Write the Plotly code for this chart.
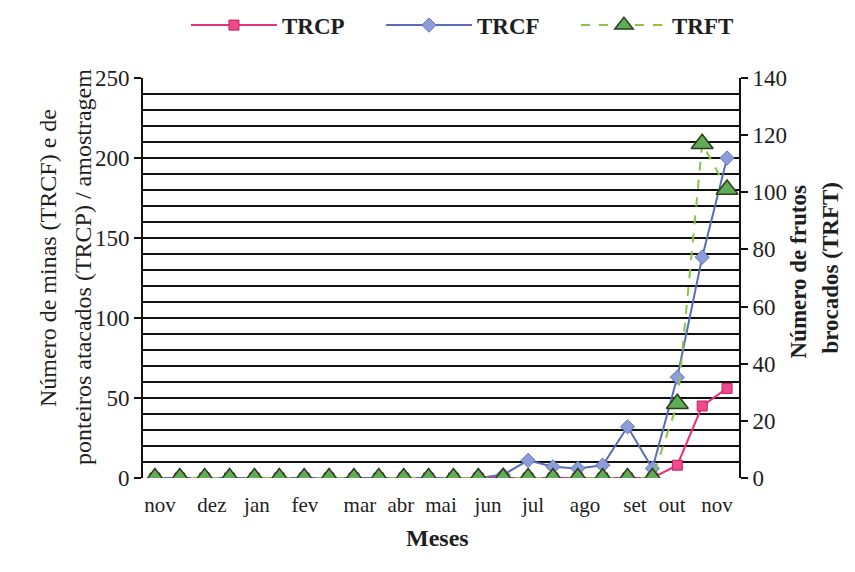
import plotly.graph_objects as go

# ---- data ----
points = list(range(24))  # fortnightly sampling, nov -> nov
TRCP = [0, 0, 0, 0, 0, 0, 0, 0, 0, 0, 0, 0, 0, 0, 0, 0, 0, 0, 0, 0, 0, 8, 45, 56]
TRCF = [0, 0, 0, 0, 0, 0, 0, 0, 0, 0, 0, 0, 0, 0, 2, 11, 7, 6, 8, 32, 6, 63, 138, 200]
TRFT = [0, 0, 0, 0, 0, 0, 0, 0, 0, 0, 0, 0, 0, 0, 0, 0, 0, 0, 0, 0, 0, 26, 117, 101]

month_labels = ["nov", "dez", "jan", "fev", "mar", "abr", "mai", "jun",
                "jul", "ago", "set", "out", "nov"]
month_positions = [0.2, 2.29, 4.1, 6.03, 8.24, 9.89, 11.5, 13.39,
                   15.2, 17.29, 19.3, 20.79, 22.6]

left_ticks = [0, 50, 100, 150, 200, 250]
right_ticks = [0, 20, 40, 60, 80, 100, 120, 140]
grid_values = list(range(10, 250, 10))

FONT = "Liberation Serif"
INK = "#1e1e1e"

fig = go.Figure()

fig.add_trace(go.Scatter(
    x=points, y=TRCP, name="TRCP", mode="lines+markers",
    line=dict(color="#e8327c", width=2),
    marker=dict(symbol="square", size=10, color="#ee4a8c",
                line=dict(color="#c01f60", width=1)),
    yaxis="y"))

fig.add_trace(go.Scatter(
    x=points, y=TRCF, name="TRCF", mode="lines+markers",
    line=dict(color="#5a6cb8", width=2),
    marker=dict(symbol="diamond", size=11, color="#8c9cd8",
                line=dict(color="#6677bb", width=1)),
    yaxis="y"))

fig.add_trace(go.Scatter(
    x=points, y=TRFT, name="TRFT", mode="lines+markers",
    line=dict(color="#88c445", width=2, dash="dash"),
    marker=dict(symbol="triangle-up", size=19, color="#5fad57",
                line=dict(color="#2e3b1c", width=1.5)),
    yaxis="y2"))

fig.update_layout(
    width=855, height=572,
    margin=dict(l=143, r=116, t=78, b=94),
    paper_bgcolor="white", plot_bgcolor="white",
    font=dict(family=FONT, size=22, color=INK),
    showlegend=True,
    legend=dict(orientation="h", xref="container", yref="container",
                x=0.2175, xanchor="left", y=0.956, yanchor="middle",
                font=dict(family=FONT, size=23, color=INK, weight="bold"),
                itemwidth=86, entrywidth=94, entrywidthmode="pixels",
                bgcolor="rgba(0,0,0,0)"),
    xaxis=dict(range=[-0.48, 23.48], tickvals=month_positions, ticktext=month_labels,
               ticks="", showline=False, showgrid=False, zeroline=False,
               tickfont=dict(family=FONT, size=21, color=INK),
               ticklabelstandoff=12),
    yaxis=dict(range=[0, 250], tickvals=left_ticks, ticks="outside", ticklen=7,
               tickwidth=2, tickcolor="#111", showline=True, linewidth=2,
               linecolor="#111", showgrid=False, zeroline=False,
               tickfont=dict(family=FONT, size=23, color=INK)),
    yaxis2=dict(range=[0, 140], tickvals=right_ticks, overlaying="y", side="right",
                anchor="x", ticks="outside", ticklen=7, tickwidth=2, tickcolor="#111",
                showline=True, linewidth=2, linecolor="#111", showgrid=False,
                zeroline=False, tickfont=dict(family=FONT, size=23, color=INK)),
    yaxis3=dict(range=[0, 250], tickvals=grid_values, overlaying="y", showgrid=True,
                gridcolor="#111", gridwidth=2, showticklabels=False, ticks="",
                showline=False, zeroline=False, anchor="x"),
)

# dummy invisible trace to activate the grid axis
fig.add_trace(go.Scatter(x=[None], y=[None], yaxis="y3", showlegend=False,
                         hoverinfo="skip"))

# axis titles
fig.add_annotation(text="Número de minas (TRCF) e de", x=33, y=258, xref="paper", yref="paper",
                   showarrow=False, textangle=-90, font=dict(family=FONT, size=24, color=INK))
fig.add_annotation(text="ponteiros atacados (TRCP) / amostragem", x=68, y=267,
                   xref="paper", yref="paper", showarrow=False, textangle=-90,
                   font=dict(family=FONT, size=24, color=INK))
fig.add_annotation(text="<b>Número de frutos</b>", x=812, y=272, xref="paper", yref="paper",
                   showarrow=False, textangle=-90, font=dict(family=FONT, size=23, color=INK))
fig.add_annotation(text="<b>brocados (TRFT)</b>", x=844, y=268, xref="paper", yref="paper",
                   showarrow=False, textangle=-90, font=dict(family=FONT, size=23, color=INK))
fig.add_annotation(text="<b>Meses</b>", x=437, y=553, xref="paper", yref="paper",
                   showarrow=False, font=dict(family=FONT, size=24, color=INK))

# convert pixel positions of the text annotations to paper coordinates
PL, PR, PT, PB = 143, 855 - 116, 78, 572 - 94
for a in fig.layout.annotations:
    a.x = (a.x - PL) / (PR - PL)
    a.y = (PB - a.y) / (PB - PT)

fig.write_html("out.html")
